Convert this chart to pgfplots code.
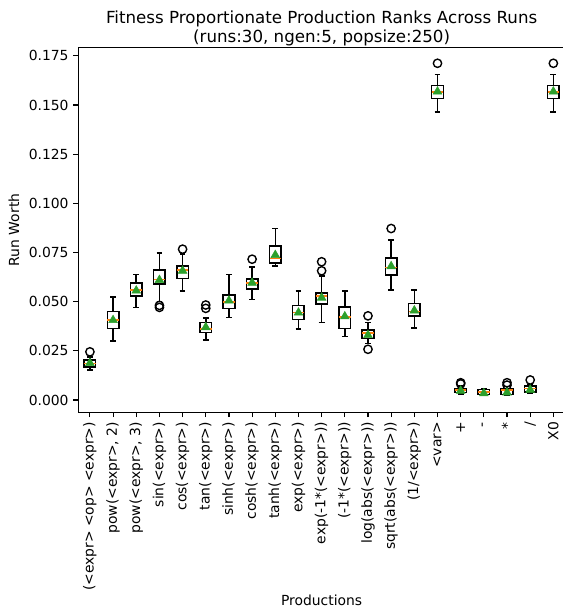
\documentclass[border=0pt]{standalone}
\usepackage{fontspec}
\setmainfont{DejaVu Sans}
\usepackage{pgfplots}
\pgfplotsset{compat=1.18}
\usepgfplotslibrary{statistics}
\definecolor{mplorange}{HTML}{FF7F0E}
\definecolor{mplgreen}{HTML}{2CA02C}
\begin{document}
\begin{tikzpicture}
\begin{axis}[
  scale only axis,
  width=350.4pt, height=262.8pt,
  xmin=0.5, xmax=21.5,
  ymin=-0.00625, ymax=0.1793,
  font=\fontsize{10}{12}\selectfont,
  scaled y ticks=false,
  ytick={0,0.025,0.05,0.075,0.1,0.125,0.15,0.175},
  yticklabels={0.000,0.025,0.050,0.075,0.100,0.125,0.150,0.175},
  xtick={1,...,21},
  xticklabels={{(<expr> <op> <expr>)},{pow(<expr>, 2)},{pow(<expr>, 3)},{sin(<expr>)},{cos(<expr>)},{tan(<expr>)},{sinh(<expr>)},{cosh(<expr>)},{tanh(<expr>)},{exp(<expr>)},{exp(-1*(<expr>))},{(-1*(<expr>))},{log(abs(<expr>))},{sqrt(abs(<expr>))},{(1/<expr>)},{<var>},{+},{-},{*},{/},{X0}},
  xticklabel style={rotate=90, anchor=east},
  tick align=outside, xtick pos=left, ytick pos=left,
  major tick length=3.5pt,
  tick style={black, line width=0.8pt},
  axis line style={line width=0.8pt},
  xlabel={Productions}, ylabel={Run Worth},
  xlabel style={yshift=4pt},
  title={Fitness Proportionate Production Ranks Across Runs\\(runs:30, ngen:5, popsize:250)},
  title style={align=center, font=\fontsize{12}{14}\selectfont, yshift=-8.6pt},
  boxplot/draw direction=y,
  boxplot/box extend=0.5,
  boxplot/whisker extend=0.25,
  boxplot/every box/.style={draw=black, line width=1.1pt},
  boxplot/every whisker/.style={draw=black, line width=1.1pt},
  boxplot/every median/.style={draw=mplorange, line width=1.1pt},
]
\coordinate (SW) at (rel axis cs:0,0);
\coordinate (NE) at (rel axis cs:1,1);
\addplot[black, line width=1pt, mark=o, mark size=3pt, mark options={black, line width=1pt}, boxplot prepared={draw position=1, lower whisker=0.0152, lower quartile=0.0169, median=0.0185, upper quartile=0.0203, upper whisker=0.0220}] coordinates {(0,0.0245)};
\addplot[black, line width=1pt, mark=o, mark size=3pt, mark options={black, line width=1pt}, boxplot prepared={draw position=2, lower whisker=0.0300, lower quartile=0.0364, median=0.0406, upper quartile=0.0449, upper whisker=0.0525}] coordinates {};
\addplot[black, line width=1pt, mark=o, mark size=3pt, mark options={black, line width=1pt}, boxplot prepared={draw position=3, lower whisker=0.0471, lower quartile=0.0530, median=0.0559, upper quartile=0.0596, upper whisker=0.0637}] coordinates {};
\addplot[black, line width=1pt, mark=o, mark size=3pt, mark options={black, line width=1pt}, boxplot prepared={draw position=4, lower whisker=0.0500, lower quartile=0.0589, median=0.0612, upper quartile=0.0660, upper whisker=0.0748}] coordinates {(0,0.0481) (0,0.0471)};
\addplot[black, line width=1pt, mark=o, mark size=3pt, mark options={black, line width=1pt}, boxplot prepared={draw position=5, lower whisker=0.0554, lower quartile=0.0618, median=0.0660, upper quartile=0.0682, upper whisker=0.0742}] coordinates {(0,0.0767)};
\addplot[black, line width=1pt, mark=o, mark size=3pt, mark options={black, line width=1pt}, boxplot prepared={draw position=6, lower whisker=0.0305, lower quartile=0.0344, median=0.0362, upper quartile=0.0393, upper whisker=0.0418}] coordinates {(0,0.0483) (0,0.0466)};
\addplot[black, line width=1pt, mark=o, mark size=3pt, mark options={black, line width=1pt}, boxplot prepared={draw position=7, lower whisker=0.0420, lower quartile=0.0466, median=0.0498, upper quartile=0.0535, upper whisker=0.0637}] coordinates {};
\addplot[black, line width=1pt, mark=o, mark size=3pt, mark options={black, line width=1pt}, boxplot prepared={draw position=8, lower whisker=0.0511, lower quartile=0.0565, median=0.0596, upper quartile=0.0616, upper whisker=0.0677}] coordinates {(0,0.0716)};
\addplot[black, line width=1pt, mark=o, mark size=3pt, mark options={black, line width=1pt}, boxplot prepared={draw position=9, lower whisker=0.0682, lower quartile=0.0698, median=0.0720, upper quartile=0.0782, upper whisker=0.0872}] coordinates {};
\addplot[black, line width=1pt, mark=o, mark size=3pt, mark options={black, line width=1pt}, boxplot prepared={draw position=10, lower whisker=0.0361, lower quartile=0.0410, median=0.0444, upper quartile=0.0481, upper whisker=0.0554}] coordinates {};
\addplot[black, line width=1pt, mark=o, mark size=3pt, mark options={black, line width=1pt}, boxplot prepared={draw position=11, lower whisker=0.0395, lower quartile=0.0488, median=0.0530, upper quartile=0.0545, upper whisker=0.0630}] coordinates {(0,0.0703) (0,0.0657)};
\addplot[black, line width=1pt, mark=o, mark size=3pt, mark options={black, line width=1pt}, boxplot prepared={draw position=12, lower whisker=0.0322, lower quartile=0.0364, median=0.0423, upper quartile=0.0474, upper whisker=0.0554}] coordinates {};
\addplot[black, line width=1pt, mark=o, mark size=3pt, mark options={black, line width=1pt}, boxplot prepared={draw position=13, lower whisker=0.0288, lower quartile=0.0313, median=0.0340, upper quartile=0.0356, upper whisker=0.0395}] coordinates {(0,0.0428) (0,0.0258)};
\addplot[black, line width=1pt, mark=o, mark size=3pt, mark options={black, line width=1pt}, boxplot prepared={draw position=14, lower whisker=0.0559, lower quartile=0.0635, median=0.0674, upper quartile=0.0723, upper whisker=0.0813}] coordinates {(0,0.0872)};
\addplot[black, line width=1pt, mark=o, mark size=3pt, mark options={black, line width=1pt}, boxplot prepared={draw position=15, lower whisker=0.0367, lower quartile=0.0428, median=0.0449, upper quartile=0.0491, upper whisker=0.0559}] coordinates {};
\addplot[black, line width=1pt, mark=o, mark size=3pt, mark options={black, line width=1pt}, boxplot prepared={draw position=16, lower whisker=0.1465, lower quartile=0.1533, median=0.1566, upper quartile=0.1600, upper whisker=0.1656}] coordinates {(0,0.1712)};
\addplot[black, line width=1pt, mark=o, mark size=3pt, mark options={black, line width=1pt}, boxplot prepared={draw position=17, lower whisker=0.0032, lower quartile=0.0039, median=0.0051, upper quartile=0.0059, upper whisker=0.0070}] coordinates {(0,0.0088) (0,0.0082)};
\addplot[black, line width=1pt, mark=o, mark size=3pt, mark options={black, line width=1pt}, boxplot prepared={draw position=18, lower whisker=0.0022, lower quartile=0.0027, median=0.0042, upper quartile=0.0054, upper whisker=0.0058}] coordinates {};
\addplot[black, line width=1pt, mark=o, mark size=3pt, mark options={black, line width=1pt}, boxplot prepared={draw position=19, lower whisker=0.0024, lower quartile=0.0029, median=0.0050, upper quartile=0.0059, upper whisker=0.0068}] coordinates {(0,0.0088) (0,0.0076)};
\addplot[black, line width=1pt, mark=o, mark size=3pt, mark options={black, line width=1pt}, boxplot prepared={draw position=20, lower whisker=0.0036, lower quartile=0.0042, median=0.0059, upper quartile=0.0071, upper whisker=0.0080}] coordinates {(0,0.0102)};
\addplot[black, line width=1pt, mark=o, mark size=3pt, mark options={black, line width=1pt}, boxplot prepared={draw position=21, lower whisker=0.1465, lower quartile=0.1533, median=0.1566, upper quartile=0.1600, upper whisker=0.1656}] coordinates {(0,0.1712)};
\addplot[only marks, mark=triangle*, mark size=3.6pt, color=mplgreen, mark options={fill=mplgreen, draw=mplgreen}] coordinates {
(1,0.0188) (2,0.0406) (3,0.0556) (4,0.0610) (5,0.0657) (6,0.0370) (7,0.0505)
(8,0.0596) (9,0.0737) (10,0.0444) (11,0.0520) (12,0.0425) (13,0.0330) (14,0.0680)
(15,0.0455) (16,0.1568) (17,0.0047) (18,0.0034) (19,0.0038) (20,0.0052) (21,0.1568)};
\end{axis}
\pgfresetboundingbox
\path ([xshift=-56.4pt,yshift=-144.5pt]SW) rectangle ([xshift=-1.4pt,yshift=34.1pt]NE);
\end{tikzpicture}
\end{document}
